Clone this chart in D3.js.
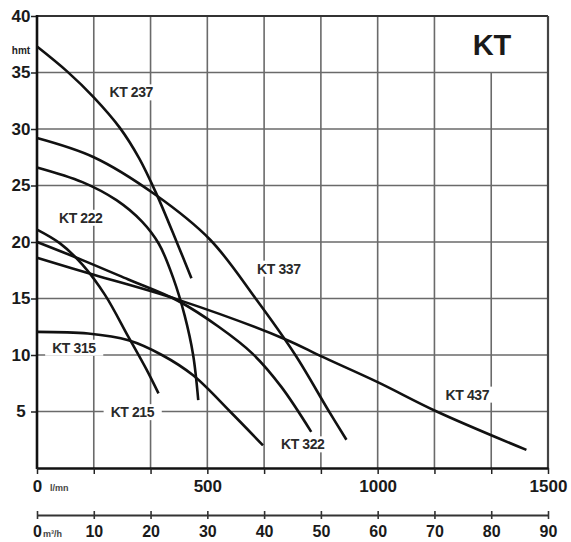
<!DOCTYPE html>
<html>
<head>
<meta charset="utf-8">
<script src="https://cdn.jsdelivr.net/npm/d3@7"></script>
<style>
  body { margin: 0; background: #fff; }
  svg { display: block; font-family: "Liberation Sans", Arial, sans-serif; }
</style>
</head>
<body>
<svg id="chart" width="571" height="542"></svg>
<script>
// flow in m3/h, head in m
var flowTicks = [0, 10, 20, 30, 40, 50, 60, 70, 80, 90];
var lpmTicks = [0, 500, 1000, 1500];
var headTicks = [5, 10, 15, 20, 25, 30, 35, 40];

var kt237 = [[0, 37.3], [5.3, 35.1], [10, 32.8], [14.6, 30.1], [18, 27.4], [21, 24.3], [24.6, 20], [27.2, 16.8]];
var kt337 = [[0, 29.2], [10, 27.5], [20.8, 24.2], [30.5, 20.2], [38.5, 15], [45.5, 10], [51.2, 5.2], [54.5, 2.5]];
var kt222 = [[0, 26.6], [8, 25.3], [14, 23.7], [18.5, 21.8], [21.5, 19.8], [24, 16.8], [26, 13.5], [27.5, 10], [28.4, 6.0]];
var kt437 = [[0, 18.6], [10, 17.1], [24.8, 14.9], [43.7, 11.4], [50, 9.9], [60, 7.6], [70.4, 5.0], [86.2, 1.6]];
var kt322 = [[0, 20.0], [8, 18.4], [16, 16.7], [24.8, 14.8], [32, 12.5], [38, 10.1], [43, 7.2], [48.3, 3.2]];
var kt215 = [[0, 21.1], [4, 19.9], [8, 18.0], [12, 15.3], [16.1, 11.6], [19.3, 8.7], [21.4, 6.6]];
var kt315 = [[0, 12.05], [9, 11.9], [16.1, 11.3], [22, 10], [27.5, 8.2], [34, 5], [39.8, 2.0]];

var curves = [kt237, kt337, kt222, kt437, kt322, kt215, kt315];

// label name + anchor (flow, head) of the text centre / baseline
var curveLabels = [
  ["KT 237", 16.6, 32.8],
  ["KT 222", 7.7, 21.7],
  ["KT 337", 42.6, 17.2],
  ["KT 315", 6.5, 10.2],
  ["KT 215", 16.8, 4.5],
  ["KT 322", 46.8, 1.65],
  ["KT 437", 75.8, 6.05]
];

var svg = d3.select("#chart");

var x = d3.scaleLinear().domain([0, 90]).range([37, 548]);
var y = d3.scaleLinear().domain([0, 40]).range([468, 16]);
var xl = d3.scaleLinear().domain([0, 1500]).range([37, 548]);

// grid
var grid = svg.append("g").attr("stroke", "#6a6a6a").attr("stroke-width", 1.6);
grid.selectAll(".v").data(flowTicks.slice(1, -1)).enter().append("line")
  .attr("x1", function(d){ return x(d); })
  .attr("x2", function(d){ return x(d); })
  .attr("y1", y(0))
  .attr("y2", function(d){ return d == 80 ? y(35) : y(40); });
grid.selectAll(".h").data(headTicks.slice(0, -1)).enter().append("line")
  .attr("x1", x(0)).attr("x2", x(90))
  .attr("y1", function(d){ return y(d); })
  .attr("y2", function(d){ return y(d); });

// frame
svg.append("line").attr("x1", x(0)).attr("x2", x(90)).attr("y1", y(40)).attr("y2", y(40))
  .attr("stroke", "#333").attr("stroke-width", 2.2);
svg.append("line").attr("x1", x(90)).attr("x2", x(90)).attr("y1", y(40)).attr("y2", y(0))
  .attr("stroke", "#444").attr("stroke-width", 2.2);

// title
svg.append("text").attr("x", 492).attr("y", 55).attr("text-anchor", "middle")
  .attr("font-size", 29).attr("font-weight", "bold").attr("fill", "#1a1a1a").text("KT");

// curve labels with white boxes
var lab = svg.selectAll(".lab").data(curveLabels).enter().append("g");
lab.append("rect").attr("fill", "#fff");
lab.append("text")
  .attr("x", function(d){ return x(d[1]); })
  .attr("y", function(d){ return y(d[2]); })
  .attr("text-anchor", "middle")
  .attr("font-size", 14).attr("font-weight", "bold").attr("fill", "#2a2a2a")
  .attr("letter-spacing", -0.4)
  .text(function(d){ return d[0]; });
lab.each(function(){
  var g = d3.select(this);
  var b = g.select("text").node().getBBox();
  g.select("rect").attr("x", b.x - 7).attr("y", b.y).attr("width", b.width + 14).attr("height", b.height);
});

// curves
var line = d3.line()
  .x(function(d){ return x(d[0]); })
  .y(function(d){ return y(d[1]); })
  .curve(d3.curveCatmullRom.alpha(0.5));
svg.selectAll(".curve").data(curves).enter().append("path")
  .attr("d", line)
  .attr("fill", "none").attr("stroke", "#111").attr("stroke-width", 2.6);

// y axis
var yAxis = svg.append("g").attr("transform", "translate(" + x(0) + ",0)")
  .call(d3.axisLeft(y).tickValues(headTicks).tickSize(6).tickSizeOuter(0));
yAxis.select(".domain").remove();
yAxis.selectAll(".tick line").attr("stroke", "#222").attr("stroke-width", 1.5);
yAxis.selectAll(".tick text").attr("x", -16).attr("text-anchor", "middle")
  .attr("font-size", 17).attr("font-weight", "bold").attr("fill", "#1a1a1a")
  .attr("font-family", "Liberation Sans, Arial, sans-serif");
svg.append("line").attr("x1", x(0)).attr("x2", x(0)).attr("y1", y(40) - 1).attr("y2", y(0) + 1)
  .attr("stroke", "#111").attr("stroke-width", 2.6);
svg.append("text").attr("x", 21).attr("y", 54).attr("text-anchor", "middle")
  .attr("font-size", 10).attr("font-weight", "bold").attr("fill", "#222").text("hmt");

// bottom axis (l/mn)
var xAxis = svg.append("g").attr("transform", "translate(0," + y(0) + ")")
  .call(d3.axisBottom(x).tickValues(flowTicks).tickSize(6).tickSizeOuter(0).tickFormat(""));
xAxis.select(".domain").attr("stroke", "#111").attr("stroke-width", 2.6);
xAxis.selectAll(".tick line").attr("stroke", "#222").attr("stroke-width", 1.5);
var lAxis = svg.append("g").attr("transform", "translate(0," + y(0) + ")")
  .call(d3.axisBottom(xl).tickValues(lpmTicks).tickSize(0).tickFormat(d3.format("d")));
lAxis.select(".domain").remove();
lAxis.selectAll(".tick text").attr("y", 24).attr("dy", 0)
  .attr("font-size", 17).attr("font-weight", "bold").attr("fill", "#1a1a1a")
  .attr("font-family", "Liberation Sans, Arial, sans-serif");
svg.append("text").attr("x", 50).attr("y", 491).attr("font-size", 9).attr("font-weight", "bold")
  .attr("fill", "#444").text("l/mn");

// m3/h axis
var mAxis = svg.append("g").attr("transform", "translate(0,515)")
  .call(d3.axisBottom(x).tickValues(flowTicks).tickSize(4).tickSizeOuter(0));
mAxis.select(".domain").attr("stroke", "#333").attr("stroke-width", 1.8);
mAxis.selectAll(".tick line").attr("y1", -4).attr("stroke", "#333").attr("stroke-width", 1.6);
mAxis.selectAll(".tick text").attr("y", 22).attr("dy", 0)
  .attr("font-size", 16).attr("font-weight", "bold").attr("fill", "#1a1a1a")
  .attr("font-family", "Liberation Sans, Arial, sans-serif");
svg.append("text").attr("x", 43).attr("y", 537).attr("font-size", 9).attr("font-weight", "bold")
  .attr("fill", "#444").text("m³/h");
</script>
</body>
</html>
